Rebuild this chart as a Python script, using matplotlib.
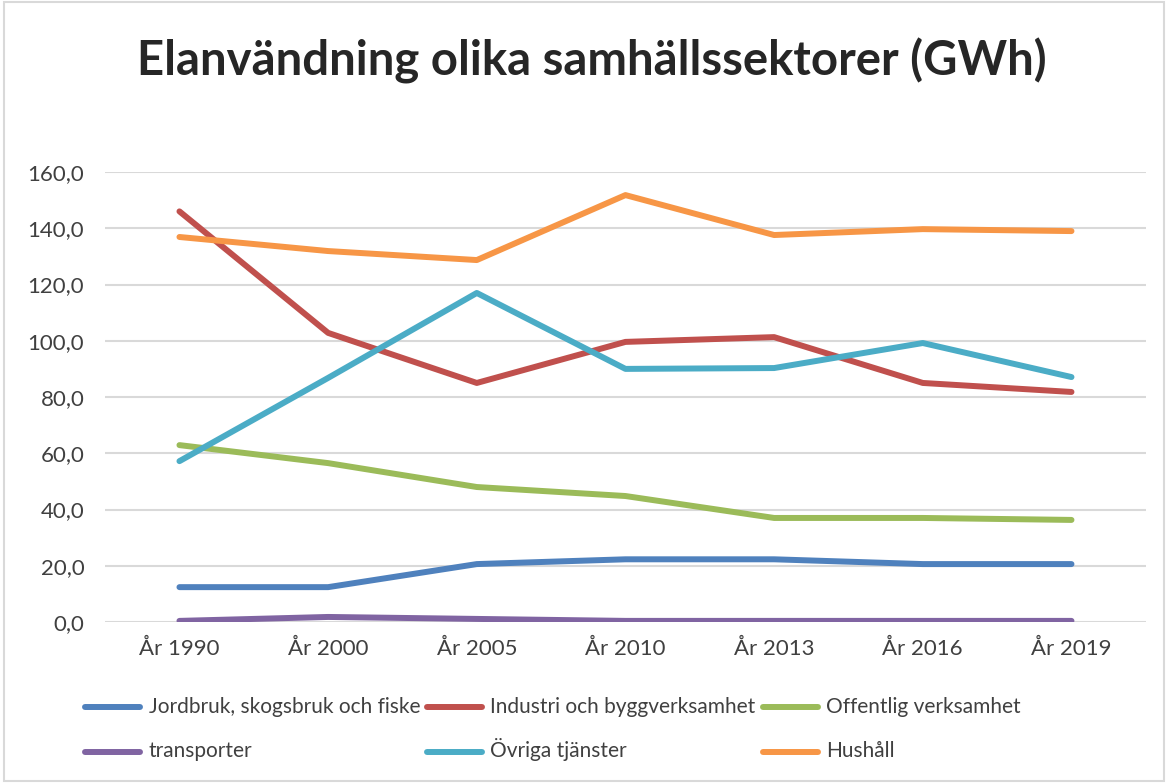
import numpy as np
import matplotlib
matplotlib.use("Agg")
import matplotlib.pyplot as plt
from matplotlib.patches import Rectangle
from matplotlib.legend_handler import HandlerLine2D

plt.rcParams['font.family'] = ['Lato', 'DejaVu Sans']

# Data (GWh)
years = ["År 1990", "År 2000", "År 2005", "År 2010", "År 2013", "År 2016", "År 2019"]
jordbruk = [12.4, 12.4, 20.6, 22.3, 22.3, 20.6, 20.6]
industri = [146.0, 102.8, 85.0, 99.6, 101.3, 85.0, 81.8]
offentlig = [62.9, 56.5, 48.0, 44.8, 37.0, 37.0, 36.3]
transporter = [0.4, 1.8, 1.1, 0.4, 0.4, 0.4, 0.4]
ovriga = [57.2, 86.8, 117.0, 90.0, 90.3, 99.2, 87.1]
hushall = [136.9, 131.9, 128.7, 151.8, 137.6, 139.7, 139.0]

series = [
    ("Jordbruk, skogsbruk och fiske", jordbruk, "#4F81BD"),
    ("Industri och byggverksamhet", industri, "#C0504D"),
    ("Offentlig verksamhet", offentlig, "#9BBB59"),
    ("transporter", transporter, "#8064A2"),
    ("Övriga tjänster", ovriga, "#4BACC6"),
    ("Hushåll", hushall, "#F79646"),
]


# legend line kept low even with a tall handle box (so rows line up)
class LowLine(HandlerLine2D):
    def create_artists(self, legend, orig_handle, xdescent, ydescent,
                       width, height, fontsize, trans):
        arts = super().create_artists(legend, orig_handle, xdescent, ydescent,
                                      width, height, fontsize, trans)
        for a in arts:
            a.set_ydata(np.full_like(a.get_xdata(), 0.25 * fontsize))
        return arts


fig = plt.figure(figsize=(11.68, 7.83), dpi=100)
ax = fig.add_axes([0.09, 0.2056, 0.891, 0.5747])

x = np.arange(len(years))
lines = {}
for name, vals, col in series:
    ln, = ax.plot(x, vals, color=col, lw=4.3, solid_capstyle='round',
                  solid_joinstyle='round', label=name, zorder=3)
    lines[name] = ln

ax.set_xlim(-0.5, len(years) - 0.5)
ax.set_ylim(0, 160)
ax.set_yticks(np.arange(0, 161, 20))
ax.set_yticklabels([f"{v:.1f}".replace(".", ",") for v in np.arange(0, 161, 20)])
ax.set_xticks(x)
ax.set_xticklabels(years)
ax.tick_params(length=0, labelsize=16, colors="#404040")
ax.tick_params(axis='x', pad=12)
ax.tick_params(axis='y', pad=15)
ax.grid(axis='y', color="#D9D9D9", lw=1.5, zorder=0)
for s in ax.spines.values():
    s.set_visible(False)

fig.text(0.507, 0.904, "Elanvändning olika samhällssektorer (GWh)", ha='center', va='baseline',
         fontsize=34, fontweight='bold', color="#262626")

# legend rows filled left to right
names = [s[0] for s in series]
order = [0, 3, 1, 4, 2, 5]
fig.legend([lines[names[i]] for i in order], [names[i] for i in order],
           handler_map={matplotlib.lines.Line2D: LowLine()},
           ncol=3, loc='upper left', bbox_to_anchor=(0.0728, 0.1188), frameon=False,
           borderpad=0, borderaxespad=0,
           fontsize=15, handlelength=2.65, handleheight=2.0, handletextpad=0.4,
           columnspacing=0.33, labelspacing=0.6, labelcolor="#404040")

fig.add_artist(Rectangle((0.003, 0.002), 0.994, 0.996, transform=fig.transFigure,
                         fill=False, edgecolor="#D9D9D9", lw=1.5))

fig.savefig("out.png", dpi=100)
